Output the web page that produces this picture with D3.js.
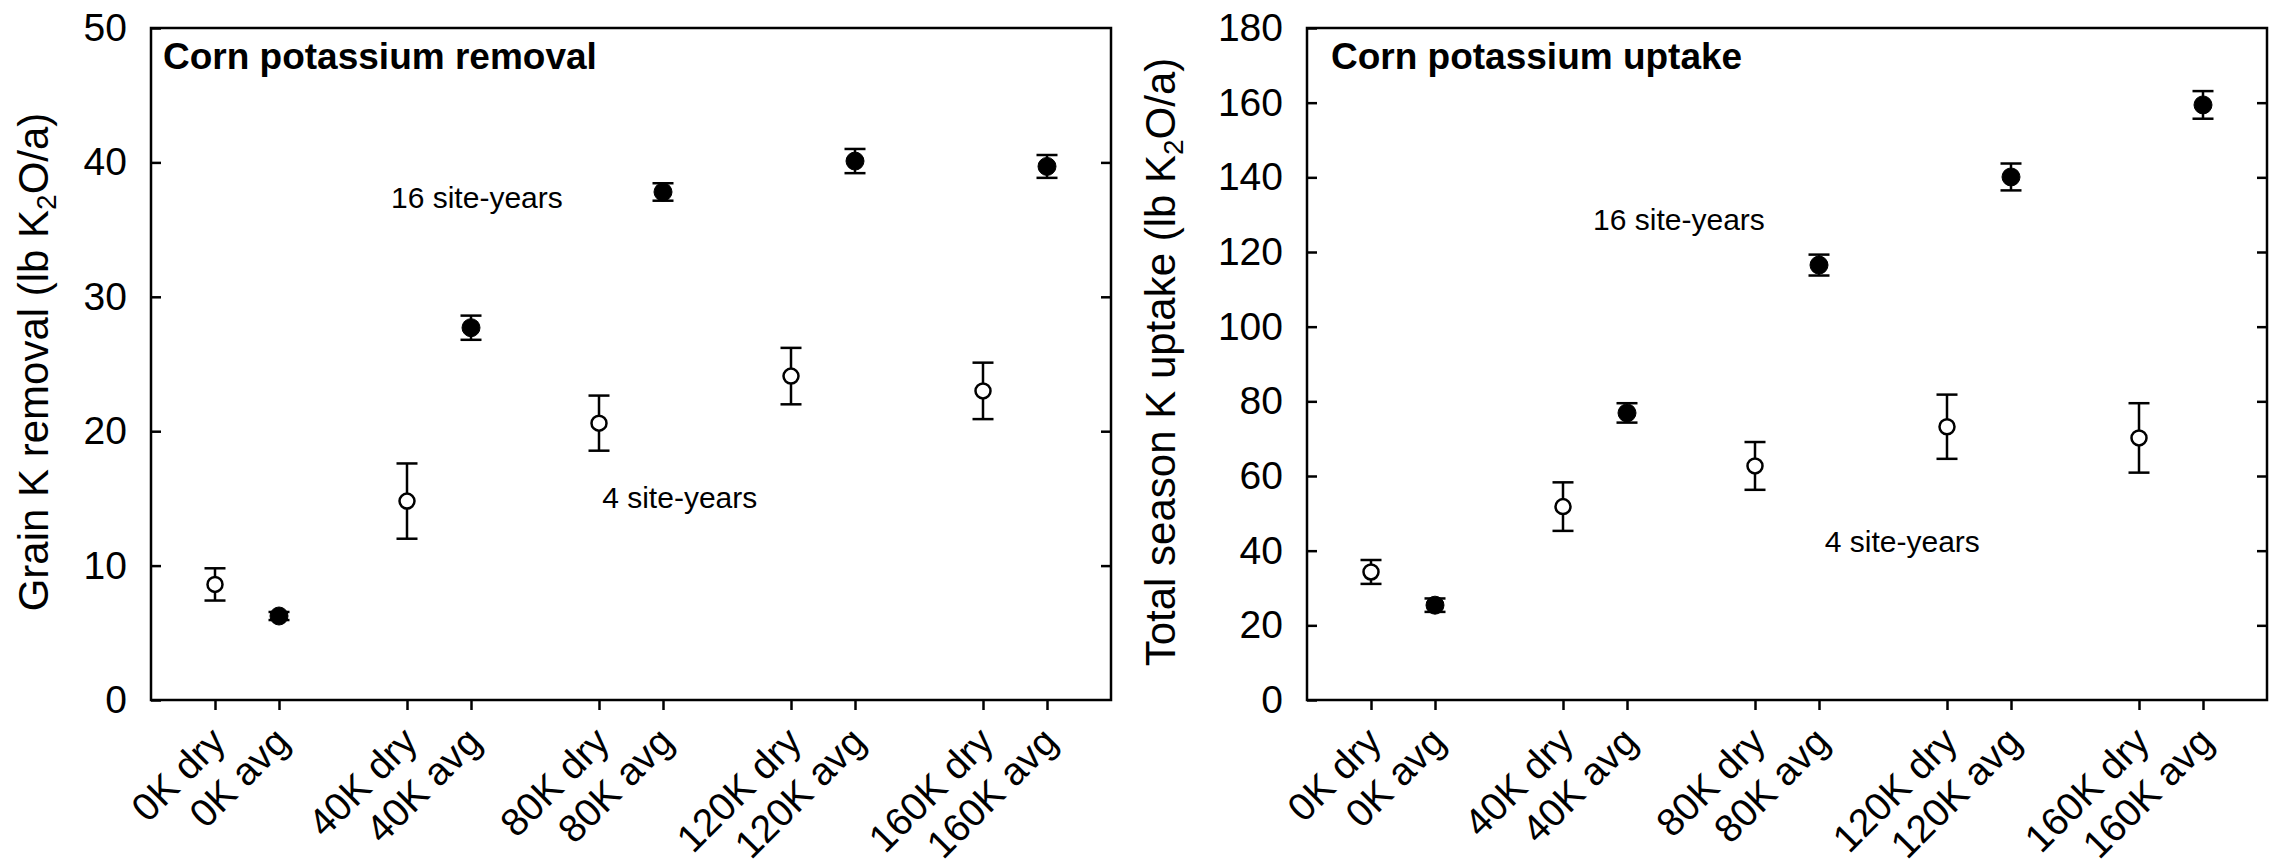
<!DOCTYPE html>
<html>
<head>
<meta charset="utf-8">
<script src="https://cdn.jsdelivr.net/npm/d3@7"></script>
<style>
  body { margin: 0; background: #fff; }
  svg { font-family: "Liberation Sans", Arial, sans-serif; display: block; }
</style>
</head>
<body>
<svg id="chart"></svg>
<script>
// categories (dry year / average year for each K rate)
const groups = ["0K", "40K", "80K", "120K", "160K"];
const categories = ["0K dry", "0K avg", "40K dry", "40K avg", "80K dry", "80K avg",
  "120K dry", "120K avg", "160K dry", "160K avg"];

// grain K removal, lb K2O/a
const removalDry = [8.6, 14.8, 20.6, 24.1, 23.0];
const removalDryErr = [1.2, 2.8, 2.05, 2.1, 2.1];
const removalAvg = [6.25, 27.7, 37.8, 40.1, 39.7];
const removalAvgErr = [0.3, 0.9, 0.65, 0.9, 0.85];
const removalTicks = [0, 10, 20, 30, 40, 50];

// total season K uptake, lb K2O/a
const uptakeDry = [34.3, 51.8, 62.7, 73.2, 70.2];
const uptakeDryErr = [3.2, 6.5, 6.4, 8.6, 9.3];
const uptakeAvg = [25.4, 76.9, 116.5, 140.1, 159.4];
const uptakeAvgErr = [1.8, 2.6, 2.8, 3.6, 3.7];
const uptakeTicks = [0, 20, 40, 60, 80, 100, 120, 140, 160, 180];

class ErrorPanel {
  width = 960;
  height = 672;

  constructor(svg, left, top) {
    this.svg = svg;
    this.left = left;
    this.top = top;
  }

  initialize() {
    this.container = this.svg.append("g")
      .attr("transform", `translate(${this.left}, ${this.top})`);
    this.xAxis = this.container.append("g");
    this.yAxis = this.container.append("g");
    this.rAxis = this.container.append("g");
    this.bars = this.container.append("g");
    this.dots = this.container.append("g");
    this.labels = this.container.append("g");

    // slot -1 .. 14: two points per group, one empty slot between groups
    this.xScale = d3.scaleLinear().domain([-1, 14]).range([0, this.width]);
    this.yScale = d3.scaleLinear().range([this.height, 0]);
  }

  slot(i) {
    return Math.floor(i / 2) * 3 + (i % 2);
  }

  update(opts) {
    const x = this.xScale, y = this.yScale;
    y.domain([0, d3.max(opts.ticks)]);

    const points = [];
    groups.forEach((g, gi) => {
      points.push({ i: gi * 2, v: opts.dry[gi], e: opts.dryErr[gi], filled: false });
      points.push({ i: gi * 2 + 1, v: opts.avg[gi], e: opts.avgErr[gi], filled: true });
    });

    this.xAxis
      .attr("transform", `translate(0, ${this.height})`)
      .call(d3.axisBottom(x)
        .tickValues(categories.map((c, i) => this.slot(i)))
        .tickFormat((d, i) => categories[i])
        .tickSize(10).tickSizeOuter(0));
    this.xAxis.select(".domain").remove();
    this.xAxis.selectAll("line").attr("stroke-width", 2.5);
    this.xAxis.selectAll("text")
      .attr("font-size", 39)
      .attr("text-anchor", "end")
      .attr("y", 0).attr("dy", 0)
      .attr("transform", "translate(12, 44) rotate(-45)");

    this.yAxis.call(d3.axisLeft(y).tickValues(opts.ticks)
      .tickSize(-10).tickPadding(24).tickSizeOuter(0));
    this.rAxis.attr("transform", `translate(${this.width}, 0)`)
      .call(d3.axisRight(y).tickValues(opts.ticks.slice(1, -1))
        .tickSize(-10).tickFormat("").tickSizeOuter(0));
    [this.yAxis, this.rAxis].forEach(a => {
      a.select(".domain").remove();
      a.selectAll("line").attr("stroke-width", 2.5);
      a.selectAll("text").attr("font-size", 39).attr("fill", "#000");
    });

    this.container.append("rect")
      .attr("width", this.width).attr("height", this.height)
      .attr("fill", "none").attr("stroke", "#000").attr("stroke-width", 2.5);

    const cap = 10.5;
    const bar = this.bars.selectAll("g").data(points).join("g")
      .attr("stroke", "#000").attr("stroke-width", 2.5);
    bar.append("line")
      .attr("x1", d => x(this.slot(d.i))).attr("x2", d => x(this.slot(d.i)))
      .attr("y1", d => y(d.v - d.e)).attr("y2", d => y(d.v + d.e));
    [-1, 1].forEach(s => {
      bar.append("line")
        .attr("x1", d => x(this.slot(d.i)) - cap).attr("x2", d => x(this.slot(d.i)) + cap)
        .attr("y1", d => y(d.v + s * d.e)).attr("y2", d => y(d.v + s * d.e));
    });

    this.dots.selectAll("circle").data(points).join("circle")
      .attr("cx", d => x(this.slot(d.i)))
      .attr("cy", d => y(d.v))
      .attr("r", d => d.filled ? 9 : 7.5)
      .attr("fill", d => d.filled ? "#000" : "#fff")
      .attr("stroke", "#000")
      .attr("stroke-width", d => d.filled ? 1 : 2.5);

    this.labels.append("text")
      .attr("x", opts.titleX).attr("y", 41)
      .attr("font-size", 37).attr("font-weight", "bold")
      .text(opts.title);

    opts.notes.forEach(n => {
      this.labels.append("text")
        .attr("x", x(n.slot)).attr("y", y(n.value))
        .attr("font-size", 30)
        .text(n.text);
    });

    const yl = this.labels.append("text")
      .attr("transform", `translate(${-opts.ylabelGap}, ${this.height / 2 - 2}) rotate(-90)`)
      .attr("text-anchor", "middle")
      .attr("font-size", 42);
    yl.append("tspan").text(opts.ylabel + " (lb K");
    yl.append("tspan").attr("font-size", 28).attr("dy", 8).text("2");
    yl.append("tspan").attr("dy", -8).text("O/a)");
  }
}

const svg = d3.select("#chart").attr("width", 2272).attr("height", 867);

const removal = new ErrorPanel(svg, 151, 28);
removal.initialize();
removal.update({
  dry: removalDry, dryErr: removalDryErr, avg: removalAvg, avgErr: removalAvgErr,
  ticks: removalTicks,
  title: "Corn potassium removal", titleX: 12,
  ylabel: "Grain K removal", ylabelGap: 103,
  notes: [
    { text: "16 site-years", slot: 2.75, value: 36.6 },
    { text: "4 site-years", slot: 6.05, value: 14.3 }
  ]
});

const uptake = new ErrorPanel(svg, 1307, 28);
uptake.initialize();
uptake.update({
  dry: uptakeDry, dryErr: uptakeDryErr, avg: uptakeAvg, avgErr: uptakeAvgErr,
  ticks: uptakeTicks,
  title: "Corn potassium uptake", titleX: 24,
  ylabel: "Total season K uptake", ylabelGap: 132,
  notes: [
    { text: "16 site-years", slot: 3.47, value: 125.9 },
    { text: "4 site-years", slot: 7.09, value: 39.6 }
  ]
});
</script>
</body>
</html>
